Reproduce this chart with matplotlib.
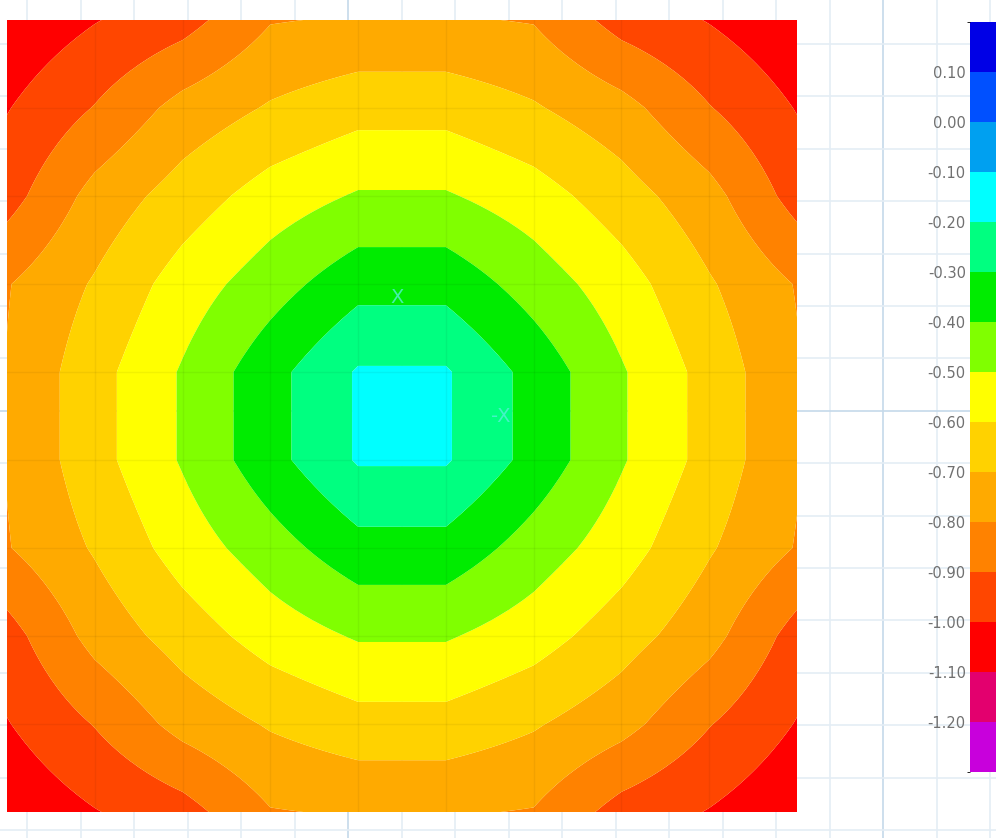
import numpy as np
import matplotlib
matplotlib.use("Agg")
import matplotlib.pyplot as plt
from matplotlib.colors import ListedColormap, BoundaryNorm

# ---- data -------------------------------------------------------------
x_nodes = [0, 1, 2, 3, 4, 5, 6, 7, 8, 9]
y_nodes = [0, 1, 2, 3, 4, 5, 6, 7, 8, 9]

deflection = [
    [-1.08, -1.005, -0.94, -0.806, -0.79, -0.79, -0.806, -0.94, -1.005, -1.08],
    [-1.005, -0.895, -0.765, -0.69, -0.637, -0.637, -0.69, -0.765, -0.895, -1.005],
    [-0.94, -0.765, -0.655, -0.555, -0.49, -0.49, -0.555, -0.655, -0.765, -0.94],
    [-0.806, -0.69, -0.555, -0.445, -0.335, -0.335, -0.445, -0.555, -0.69, -0.806],
    [-0.795, -0.637, -0.49, -0.335, -0.19, -0.19, -0.335, -0.49, -0.637, -0.79],
    [-0.795, -0.637, -0.49, -0.335, -0.19, -0.19, -0.335, -0.49, -0.637, -0.79],
    [-0.806, -0.69, -0.555, -0.445, -0.335, -0.335, -0.445, -0.555, -0.69, -0.806],
    [-0.94, -0.765, -0.655, -0.555, -0.49, -0.49, -0.555, -0.655, -0.765, -0.94],
    [-1.005, -0.895, -0.765, -0.69, -0.637, -0.637, -0.69, -0.765, -0.895, -1.005],
    [-1.08, -1.005, -0.94, -0.806, -0.79, -0.79, -0.806, -0.94, -1.005, -1.08],
]

levels = [-1.30, -1.20, -1.10, -1.00, -0.90, -0.80, -0.70, -0.60, -0.50,
          -0.40, -0.30, -0.20, -0.10, 0.00, 0.10, 0.20]
tick_values = [0.10, 0.00, -0.10, -0.20, -0.30, -0.40, -0.50, -0.60,
               -0.70, -0.80, -0.90, -1.00, -1.10, -1.20]
tick_labels = ["0.10", "0.00", "-0.10", "-0.20", "-0.30", "-0.40", "-0.50",
               "-0.60", "-0.70", "-0.80", "-0.90", "-1.00", "-1.10", "-1.20"]
band_colors = ["#c800dc", "#e3006e", "#ff0000", "#ff4600", "#ff8200",
               "#ffaa00", "#ffd200", "#ffff00", "#80ff00", "#00ec00",
               "#00ff80", "#00ffff", "#00a0f0", "#0050ff", "#0000e6"]

# ---- figure -----------------------------------------------------------
W, H = 996, 838
fig = plt.figure(figsize=(W / 100, H / 100), dpi=100)
fig.patch.set_facecolor("white")

# background grid (whole figure)
bg = fig.add_axes([0, 0, 1, 1], zorder=0)
bg.set_xlim(0, W)
bg.set_ylim(H, 0)
bg.axis("off")
for i, xv in enumerate(np.arange(27.0, W + 60, 53.5)):
    bg.axvline(xv, color="#c5d9ea" if i % 10 == 6 else "#e4edf5", lw=1.2, zorder=0)
for i, yv in enumerate(np.arange(-8.4, H + 60, 52.4)):
    bg.axhline(yv, color="#c5d9ea" if i % 10 == 8 else "#e4edf5", lw=1.2, zorder=0)

# main contour plot (nodal values shown with bilinear shading inside each element)
ax = fig.add_axes([7 / W, (H - 812) / H, 790 / W, 792 / H], zorder=1)
cmap = ListedColormap(band_colors)
norm = BoundaryNorm(levels, cmap.N)
Z = np.array(deflection)
sub = 10
xf = np.linspace(x_nodes[0], x_nodes[-1], (len(x_nodes) - 1) * sub + 1)
yf = np.linspace(y_nodes[0], y_nodes[-1], (len(y_nodes) - 1) * sub + 1)
Zr = np.array([np.interp(xf, x_nodes, row) for row in Z])
Zf = np.array([np.interp(yf, y_nodes, col) for col in Zr.T]).T
XF, YF = np.meshgrid(xf, yf)
cs = ax.contourf(XF, YF, Zf, levels=levels, cmap=cmap, norm=norm, antialiased=True)
# faint mesh lines
for xv in x_nodes[1:-1]:
    ax.axvline(xv, color="black", alpha=0.05, lw=1.0)
for yv in y_nodes[1:-1]:
    ax.axhline(yv, color="black", alpha=0.05, lw=1.0)
ax.set_xlim(x_nodes[0], x_nodes[-1])
ax.set_ylim(y_nodes[-1], y_nodes[0])
ax.axis("off")

# local axis marks
ax.text(4.44, 3.15, "X", color="#55f0d8", fontsize=14, ha="center", va="center", alpha=0.8)
ax.text(5.62, 4.51, "-X", color="#55f0d8", fontsize=14, ha="center", va="center", alpha=0.8)

# colour bar
cax = fig.add_axes([970 / W, (H - 772) / H, 32 / W, 750 / H], zorder=2)
cb = fig.colorbar(cs, cax=cax, orientation="vertical")
cb.outline.set_visible(False)
cb.set_ticks(tick_values)
cb.set_ticklabels(tick_labels)
cax.yaxis.set_ticks_position("left")
cax.yaxis.set_label_position("left")
cax.tick_params(axis="y", length=0, pad=3, labelsize=10.5, labelcolor="#707070")

fig.savefig("out.png", dpi=100, facecolor="white")
